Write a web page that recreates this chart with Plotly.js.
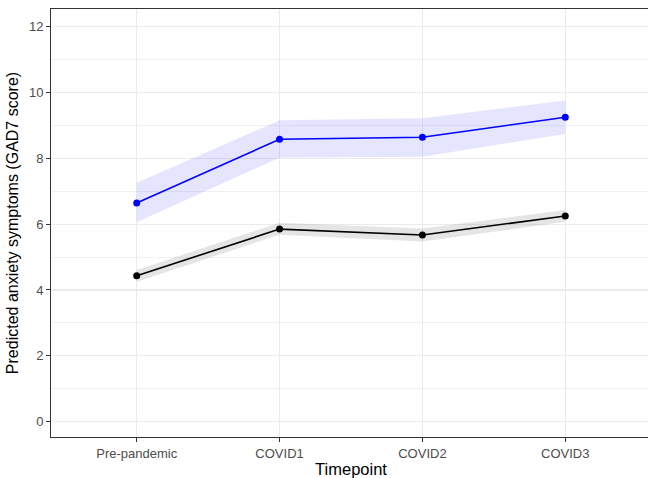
<!DOCTYPE html>
<html>
<head>
<meta charset="utf-8">
<script src="https://cdn.plot.ly/plotly-3.0.1.min.js"></script>
<style>
html,body{margin:0;padding:0;overflow:hidden;background:#fff;}
#chart{width:652px;height:478px;}
</style>
</head>
<body>
<div id="chart"></div>
<script>
const timepoints = ["Pre-pandemic", "COVID1", "COVID2", "COVID3"];

const blueMean  = [6.64, 8.58, 8.64, 9.25];
const blueUpper = [7.26, 9.16, 9.22, 9.76];
const blueLower = [6.06, 8.02, 8.05, 8.74];

const blackMean  = [4.43, 5.85, 5.67, 6.25];
const blackUpper = [4.61, 6.04, 5.87, 6.43];
const blackLower = [4.25, 5.68, 5.47, 6.07];

const yTickVals = [0, 2, 4, 6, 8, 10, 12];

function ribbon(upper, lower, fill) {
  return {
    type: "scatter", mode: "lines",
    x: timepoints.concat(timepoints.slice().reverse()),
    y: upper.concat(lower.slice().reverse()),
    fill: "toself", fillcolor: fill,
    line: {width: 0, color: "rgba(0,0,0,0)"},
    hoverinfo: "skip", showlegend: false
  };
}
function line(mean, color) {
  return {
    type: "scatter", mode: "lines+markers",
    x: timepoints, y: mean,
    line: {color: color, width: 1.6},
    marker: {color: color, size: 7},
    showlegend: false
  };
}

const traces = [
  ribbon(blackUpper, blackLower, "rgba(153,153,153,0.25)"),
  ribbon(blueUpper, blueLower, "rgba(0,0,255,0.1)"),
  line(blackMean, "#000000"),
  line(blueMean, "#0000FF")
];

const fontFam = "Liberation Sans, Arial, sans-serif";
const layout = {
  width: 652, height: 478,
  margin: {l: 51, r: 1, t: 9, b: 41},
  paper_bgcolor: "#ffffff", plot_bgcolor: "#ffffff",
  showlegend: false,
  font: {family: fontFam, color: "#4D4D4D"},
  xaxis: {
    type: "category",
    categoryorder: "array", categoryarray: timepoints,
    range: [-0.6, 3.6],
    showgrid: true, gridcolor: "#EBEBEB", gridwidth: 1.2,
    zeroline: false,
    showline: true, linecolor: "#333333", linewidth: 1, mirror: true,
    ticks: "outside", ticklen: 4, tickcolor: "#333333", tickwidth: 1,
    tickfont: {size: 13, color: "#4D4D4D", family: fontFam},
    title: {text: "Timepoint", font: {size: 16.5, color: "#000000", family: fontFam}, standoff: 3}
  },
  yaxis: {
    range: [-0.47, 12.54],
    tickvals: yTickVals,
    showgrid: true, gridcolor: "#EBEBEB", gridwidth: 1.2,
    minor: {dtick: 1, tick0: 1, showgrid: true, gridcolor: "#EBEBEB", gridwidth: 0.7, ticks: ""},
    zeroline: false,
    showline: true, linecolor: "#333333", linewidth: 1, mirror: true,
    ticks: "outside", ticklen: 4, tickcolor: "#333333", tickwidth: 1,
    tickfont: {size: 13, color: "#4D4D4D", family: fontFam},
    title: {text: "Predicted anxiety symptoms (GAD7 score)", font: {size: 16, color: "#000000", family: fontFam}, standoff: 6}
  }
};

Plotly.newPlot("chart", traces, layout, {displayModeBar: false, staticPlot: true});
</script>
</body>
</html>
